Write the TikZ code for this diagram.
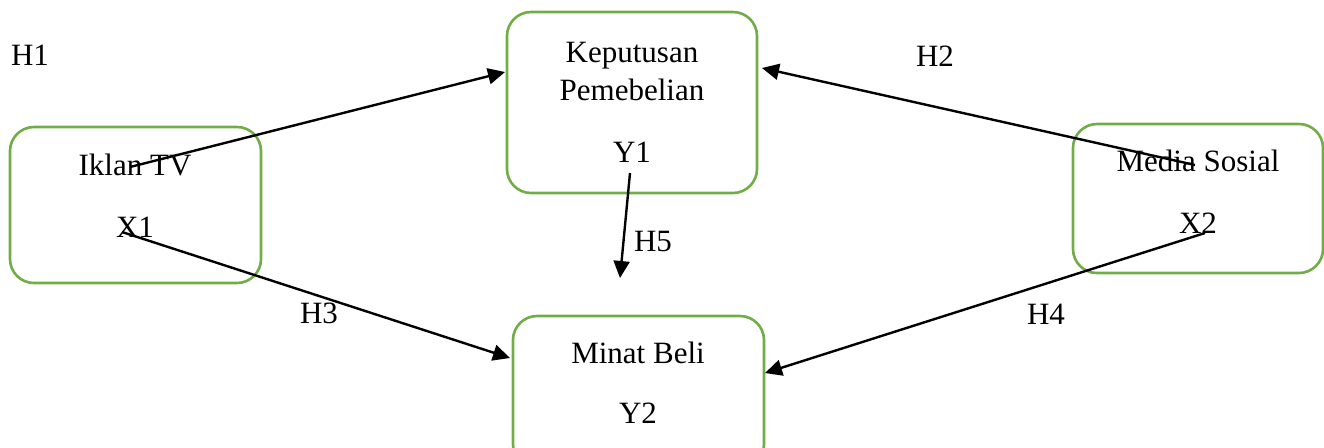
\documentclass[tikz,border=0pt]{standalone}
\usepackage{fontspec}
\setmainfont{Liberation Serif}
\usetikzlibrary{arrows.meta}
\definecolor{boxgreen}{RGB}{112,173,71}
\tikzset{
  varbox/.style={draw=boxgreen, line width=1.3pt, rounded corners=12pt, inner sep=0pt},
  lbl/.style={anchor=base, inner sep=0pt},
  link/.style={line width=1.2pt, -{Triangle[length=8.5pt,width=8pt]}},
}

\begin{document}
\begin{tikzpicture}[x=0.5pt,y=-0.5pt,font=\fontsize{15.5}{18}\selectfont]
   \useasboundingbox (0,0) rectangle (1324,447);
   \clip (0,0) rectangle (1324,447);
   % boxes
   \node[varbox, minimum width=125.5pt, minimum height=78pt]   (iklan)  at (135.5,205) {};
   \node[varbox, minimum width=125pt,   minimum height=90.5pt] (keput)  at (632,102.5) {};
   \node[varbox, minimum width=125pt,   minimum height=74.5pt] (media)  at (1198,198.5) {};
   \node[varbox, minimum width=125.5pt, minimum height=76pt]   (minat)  at (638.5,392) {};
   % box texts
   \node[lbl] (iklantxt) at (135,175) {Iklan TV};
   \node[lbl] (xone)     at (135,237) {X1};
   \node[lbl] (keptxt)   at (632,62)  {Keputusan};
   \node[lbl] (pemtxt)   at (632,100) {Pemebelian};
   \node[lbl] (yone)     at (632,162) {Y1};
   \node[lbl] (medtxt)   at (1198,171) {Media Sosial};
   \node[lbl] (xtwo)     at (1198,233) {X2};
   \node[lbl] (mintxt)   at (638,363) {Minat Beli};
   \node[lbl] (ytwo)     at (638,423) {Y2};
   % hypothesis labels
   \node[lbl] (hone)   at (30,65)   {H1};
   \node[lbl] (htwo)   at (935,66)  {H2};
   \node[lbl] (hthree) at (319,323) {H3};
   \node[lbl] (hfour)  at (1046,324) {H4};
   \node[lbl] (hfive)  at (653,251) {H5};
   % arrow ends
   \coordinate (sone)   at (130,167);
   \coordinate (sx1)    at (122,232);
   \coordinate (stwo)   at (1195,165);
   \coordinate (sx2)    at (1205,233);
   \coordinate (sy1)    at (630,173);
   \coordinate (tkl)    at (505,72);
   \coordinate (tkr)    at (762,68);
   \coordinate (tml)    at (510,358);
   \coordinate (tmr)    at (765,373);
   \coordinate (tdown)  at (620,278);
   \draw[link] (sone) -- (tkl);
   \draw[link] (stwo) -- (tkr);
   \draw[link] (sx1)  -- (tml);
   \draw[link] (sx2)  -- (tmr);
   \draw[link] (sy1)  -- (tdown);
\end{tikzpicture}
\end{document}
